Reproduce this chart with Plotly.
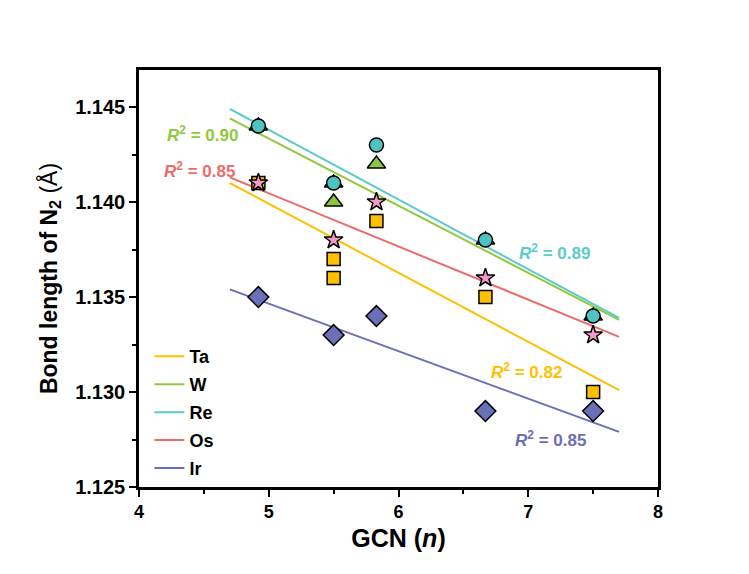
import plotly.graph_objects as go

# ---- data ----
metals = ["Ta", "W", "Re", "Os", "Ir"]
gcn_Ta = [4.92, 5.5, 5.5, 5.83, 6.67, 7.5]
bl_Ta = [1.141, 1.137, 1.136, 1.139, 1.135, 1.130]
gcn_W = [4.92, 5.5, 5.5, 5.83, 6.67, 7.5]
bl_W = [1.144, 1.141, 1.140, 1.142, 1.138, 1.134]
gcn_Re = [4.92, 5.5, 5.83, 6.67, 7.5]
bl_Re = [1.144, 1.141, 1.143, 1.138, 1.134]
gcn_Os = [4.92, 5.5, 5.83, 6.67, 7.5]
bl_Os = [1.141, 1.138, 1.140, 1.136, 1.133]
gcn_Ir = [4.92, 5.5, 5.83, 6.67, 7.5]
bl_Ir = [1.135, 1.133, 1.134, 1.129, 1.129]

# linear-fit line end points
fit_x = [4.7, 7.7]
fit_Ta = [1.1410, 1.1301]
fit_W = [1.1444, 1.1338]
fit_Re = [1.1449, 1.1339]
fit_Os = [1.1413, 1.1329]
fit_Ir = [1.1354, 1.1279]

r2_text = ["0.82", "0.90", "0.89", "0.85", "0.85"]
r2_pos_x = [6.99, 4.49, 7.20, 4.47, 7.17]
r2_pos_y = [1.13111, 1.14358, 1.13737, 1.14168, 1.12753]

line_colors = ["#FFC000", "#92C83E", "#5CCACA", "#EC6B6B", "#6A6FB6"]
fill_colors = ["#FFC000", "#8DC63F", "#4FC2C2", "#F29AC8", "#6970B8"]
symbols = ["square", "triangle-up", "circle", "star", "diamond"]
sizes = [13, 16, 14, 14, 16]

gcn = [gcn_Ta, gcn_W, gcn_Re, gcn_Os, gcn_Ir]
bl = [bl_Ta, bl_W, bl_Re, bl_Os, bl_Ir]
fits = [fit_Ta, fit_W, fit_Re, fit_Os, fit_Ir]

FONT = "Arial, Liberation Sans, sans-serif"

fig = go.Figure()

# fit lines (legend entries)
for i, m in enumerate(metals):
    fig.add_trace(go.Scatter(
        x=fit_x, y=fits[i], mode="lines", name="<b>" + m + "</b>", legendgroup=m,
        line=dict(color=line_colors[i], width=2), showlegend=True))

# markers, drawn in an order so circles sit above triangles, stars above squares
order = [0, 1, 4, 2, 3]
for i in order:
    fig.add_trace(go.Scatter(
        x=gcn[i], y=bl[i], mode="markers", name=metals[i], showlegend=False,
        marker=dict(symbol=symbols[i], size=sizes[i], color=fill_colors[i],
                    line=dict(color="black", width=1.5))))

for i in range(5):
    fig.add_annotation(
        x=r2_pos_x[i], y=r2_pos_y[i], xref="x", yref="y", showarrow=False,
        text="<b><i>R</i><sup>2</sup> = " + r2_text[i] + "</b>",
        font=dict(family=FONT, size=17, color=line_colors[i]))

axis_common = dict(
    showline=True, linecolor="black", linewidth=2.5, mirror=True,
    ticks="outside", ticklen=7, tickwidth=2, tickcolor="black",
    showgrid=False, zeroline=False,
)

fig.update_xaxes(
    range=[4, 8], tickvals=[4, 5, 6, 7, 8], ticktext=["<b>4</b>", "<b>5</b>", "<b>6</b>", "<b>7</b>", "<b>8</b>"],
    minor=dict(ticks="outside", ticklen=4, tickwidth=2, tickcolor="black", dtick=0.5, tick0=4),
    tickfont=dict(family=FONT, size=18, color="black"),
    title=dict(text="<b>GCN (<i>n</i>)</b>", font=dict(family=FONT, size=25, color="black"), standoff=9),
    **axis_common)

ytv = [1.125, 1.130, 1.135, 1.140, 1.145]
fig.update_yaxes(
    range=[1.125, 1.14695], tickvals=ytv, ticktext=["<b>%.3f</b>" % v for v in ytv],
    minor=dict(ticks="outside", ticklen=4, tickwidth=2, tickcolor="black", dtick=0.0025, tick0=1.125),
    tickfont=dict(family=FONT, size=20, color="black"),
    title=dict(text="<b>Bond length of N<sub>2</sub></b> (Å)", font=dict(family=FONT, size=23, color="black"), standoff=12),
    **axis_common)

fig.update_layout(
    width=741, height=566,
    margin=dict(l=131, r=91, t=62, b=87),
    paper_bgcolor="white", plot_bgcolor="white",
    legend=dict(x=0.02, y=0.357, xanchor="left", yanchor="top",
                bgcolor="rgba(0,0,0,0)", tracegroupgap=1.5,
                font=dict(family=FONT, size=18, color="black")),
)

fig.write_html("out.html")
